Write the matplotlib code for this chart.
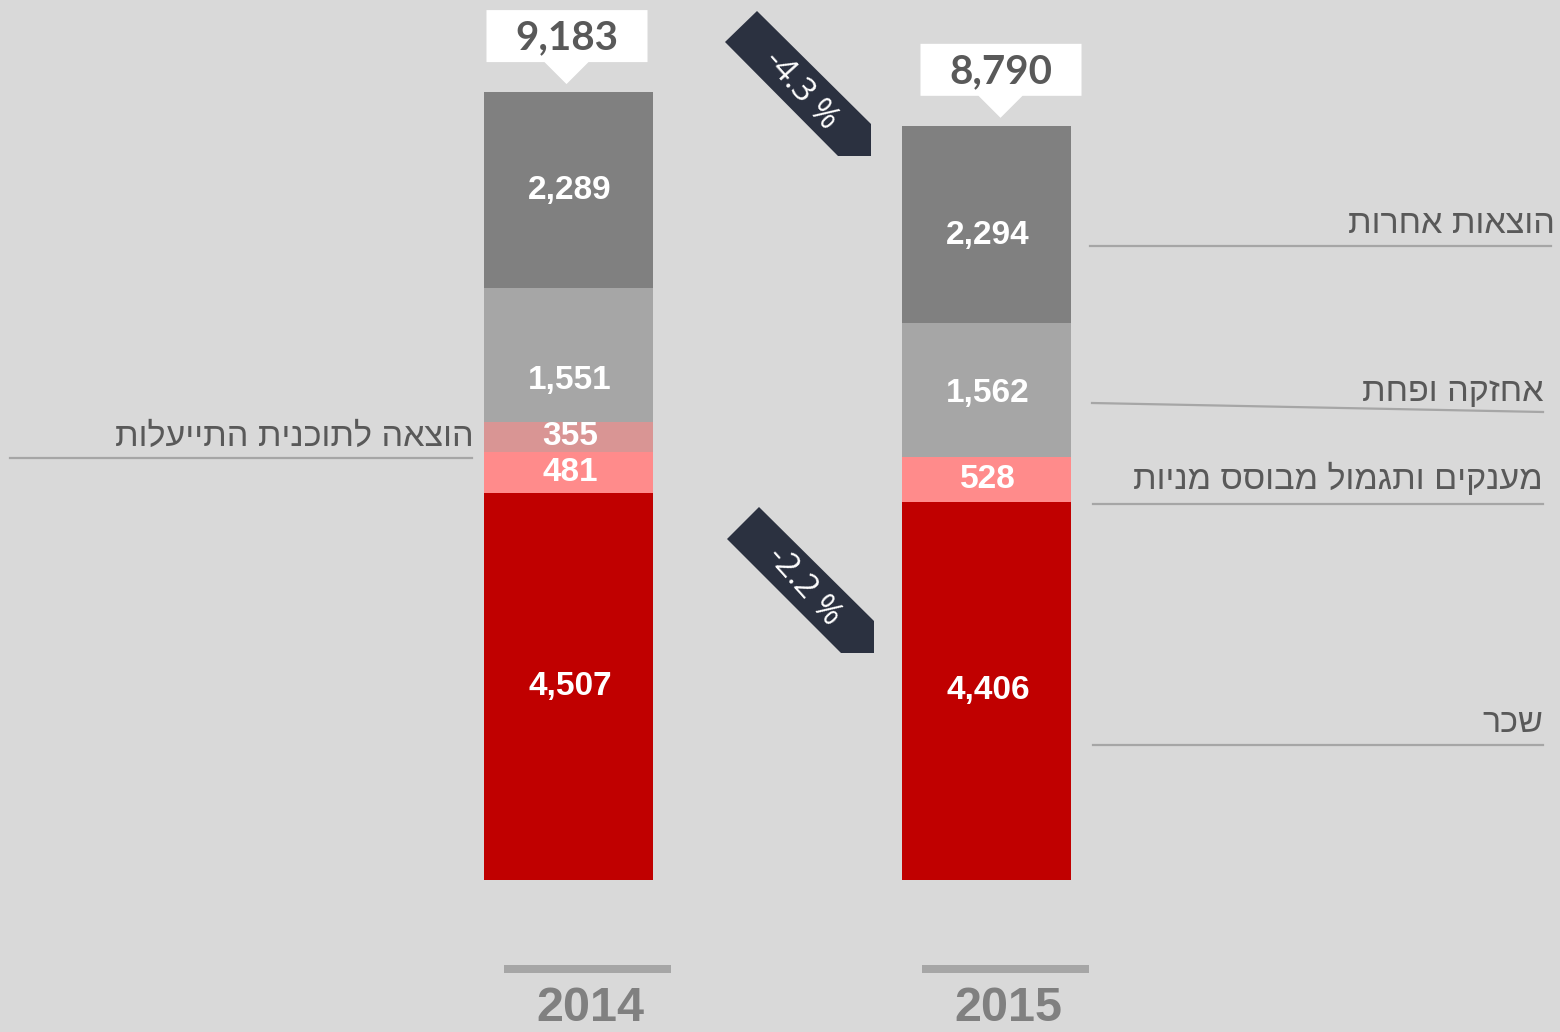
import matplotlib
matplotlib.use('Agg')
import matplotlib.pyplot as plt
from matplotlib.patches import Polygon, Rectangle

# data (NIS millions)
years = ['2014', '2015']
salary = [4507, 4406]
grants = [481, 528]
efficiency = [355, 0]
maintenance = [1551, 1562]
other = [2289, 2294]
changes = ['-4.3 %', '-2.2 %']

series = [salary, grants, efficiency, maintenance, other]
colors = ['#c00000', '#ff8b8b', '#d99594', '#a6a6a6', '#808080']
# downward nudges for in-bar labels (pixels)
nudges = [[0, 0, 0, 25, 0], [0, 0, 0, 4, 11]]

labels_right = ['הוצאות אחרות', 'אחזקה ופחת', 'מענקים ותגמול מבוסס מניות', 'שכר']
label_left = 'הוצאה לתוכנית התייעלות'

BG = '#d9d9d9'
W, H = 1560, 1032
NUM = ['Liberation Sans', 'DejaVu Sans']
HEB = ['Liberation Sans', 'DejaVu Sans']


def rtl(s):
    return s[::-1]


fig = plt.figure(figsize=(W / 100, H / 100), dpi=100, facecolor=BG)
ax = fig.add_axes([0, 0, 1, 1])
ax.set_facecolor(BG)
ax.axis('off')

# scale: 0 at y=880 px, 0.0858 px per unit ; bars centred at 568.5 / 986.5
k = 0.0858
ax.set_ylim(-(H - 880) / k, 880 / k)
step = 418.0
ax.set_xlim(-568.5 / step, (W - 568.5) / step)
x = list(range(len(years)))
width = 169 / step

bottoms = [0] * len(years)
for j, vals in enumerate(series):
    ax.bar(x, vals, width=width, bottom=bottoms, color=colors[j], linewidth=0)
    for i, v in enumerate(vals):
        if v > 0:
            ax.annotate(f'{v:,}', (x[i], bottoms[i] + v / 2), xytext=(1, -nudges[i][j] * 0.72),
                        textcoords='offset points', ha='center', va='center',
                        color='white', fontsize=24, fontweight='bold', family=NUM)
    bottoms = [b + v for b, v in zip(bottoms, vals)]
totals = bottoms

# overlay in pixel coordinates for decorations
ov = fig.add_axes([0, 0, 1, 1], facecolor='none')
ov.set_xlim(0, W)
ov.set_ylim(H, 0)
ov.axis('off')


def to_px(xd, yd):
    dx, dy = ax.transData.transform((xd, yd))
    return dx, H - dy


# total callouts
callout_dx = [-2, 14]
for i, t in enumerate(totals):
    cx, top = to_px(x[i], t)
    cx += callout_dx[i]
    tip = top - 8
    bx0, bx1 = cx - 80, cx + 81
    by1 = tip - 22
    by0 = by1 - 52
    ov.add_patch(Polygon([(bx0, by0), (bx1, by0), (bx1, by1), (cx + 22, by1), (cx, tip),
                          (cx - 22, by1), (bx0, by1)], closed=True, facecolor='white',
                         edgecolor='none'))
    ov.text(cx, (by0 + by1) / 2 + 2, f'{t:,}', ha='center', va='center', fontsize=29,
            fontweight='bold', color='#595959', family=['Lato', 'DejaVu Sans'])

# change arrows
arrow_shapes = [
    [(757, 11), (871, 124), (871, 156), (838, 156), (725, 42)],
    [(759, 507), (874, 621), (874, 653), (841, 653), (727, 539)],
]
arrow_text_pos = [(801, 90), (804, 586)]
for shape, (tx, ty), txt in zip(arrow_shapes, arrow_text_pos, changes):
    ov.add_patch(Polygon(shape, closed=True, facecolor='#2b3140', edgecolor='none'))
    ov.text(tx, ty, txt, rotation=-48, rotation_mode='anchor', ha='center', va='center',
            fontsize=24, color='white', family=['Open Sans', 'DejaVu Sans'])

# category labels with leader lines
right_specs = [
    (1555, 233, [(1090, 246), (1551, 246)]),
    (1543, 401, [(1092, 403), (1543, 412)]),
    (1543, 489, [(1093, 504), (1543, 504)]),
    (1543, 732, [(1093, 745), (1543, 745)]),
]
for txt, (rx, by, line) in zip(labels_right, right_specs):
    ov.text(rx, by, rtl(txt), ha='right', va='baseline', fontsize=24.6, color='#595959',
            family=HEB)
    ov.plot([p[0] for p in line], [p[1] for p in line], color='#a6a6a6', lw=1.6)

ov.text(474, 446, rtl(label_left), ha='right', va='baseline', fontsize=24.6,
        color='#595959', family=HEB)
ov.plot([10, 472], [458, 458], color='#a6a6a6', lw=1.6)

# year axis
for i, yr in enumerate(years):
    cx, _ = to_px(x[i], 0)
    ov.add_patch(Rectangle((cx - 65, 965), 167, 8, facecolor='#a6a6a6', edgecolor='none'))
    ov.text(cx + 22, 1031, yr, ha='center', va='bottom', fontsize=35, fontweight='bold',
            color='#808080', family=NUM)

fig.savefig('out.png', dpi=100, facecolor=BG)
